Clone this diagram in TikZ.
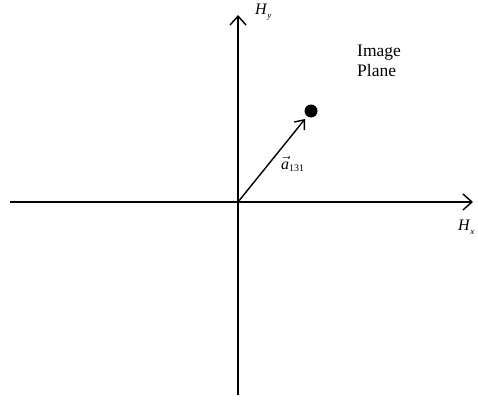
\documentclass[tikz,border=0pt]{standalone}
\usepackage{fontspec}
\setmainfont{Liberation Serif}
\usetikzlibrary{arrows.meta}
\begin{document}
\begin{tikzpicture}[x=1pt,y=-1pt,
  axis/.style={line width=1.4pt,-{Straight Barb[length=9pt,width=16pt,line width=1.4pt]}},
  vec/.style={line width=1.4pt,-{Straight Barb[length=8pt,width=13pt,line width=1.4pt]}},
  lbl/.style={inner sep=0pt}]
\useasboundingbox (0,0) rectangle (478,401);
\coordinate (O) at (238,202);
\coordinate (xl) at (10,202);
\coordinate (xr) at (473,202);
\coordinate (yb) at (238,395);
\coordinate (yt) at (238,15);
\coordinate (vt) at (305,119);
\draw[axis] (xl) -- (xr);
\draw[axis] (yb) -- (yt);
\draw[vec] (O) -- (vt);
\node[circle,fill=black,minimum size=13pt,inner sep=0pt] (dot) at (311,111) {};
\node[lbl,anchor=base west,font=\fontsize{16}{18}\selectfont] (hy) at (255,15) {\textit{H}\raisebox{-4pt}{\fontsize{9}{9}\selectfont\textit{y}}};
\node[lbl,anchor=base west,font=\fontsize{16}{18}\selectfont] (hx) at (458,230) {\textit{H}\raisebox{-4pt}{\fontsize{9}{9}\selectfont\textit{x}}};
\node[lbl,anchor=base west,font=\fontsize{16}{18}\selectfont] (av) at (281,169) {$\vec{\textit{a}}$\raisebox{-2pt}{\fontsize{10}{10}\selectfont 131}};
\node[lbl,align=left,anchor=north west,font=\fontsize{17.5}{20}\selectfont] (ip) at (357,45) {Image\\Plane};
\end{tikzpicture}
\end{document}
